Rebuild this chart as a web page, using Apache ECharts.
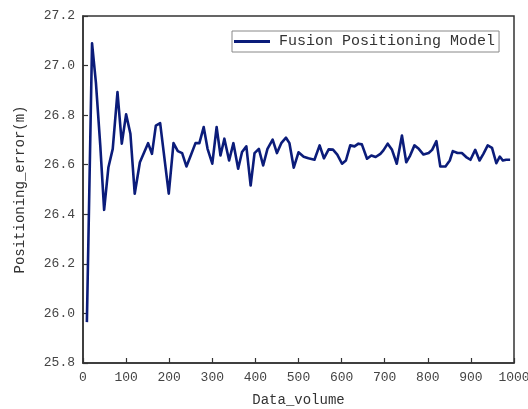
<!DOCTYPE html>
<html>
<head>
<meta charset="utf-8">
<script src="https://cdn.jsdelivr.net/npm/echarts@6/dist/echarts.min.js"></script>
<style>
html,body{margin:0;padding:0;background:#fff;}
#main{width:528px;height:409px;}
</style>
</head>
<body>
<div id="main"></div>
<script>
var seriesName = 'Fusion Positioning Model';
var xTitle = 'Data_volume';
var yTitle = 'Positioning_error(m)';

var dataVolume = [9,21,30,40,49,59,69,80,90,100,110,120,132,151,160,169,179,199,210,220,230,240,250,261,270,280,289,300,310,319,328,339,349,360,369,379,389,398,408,418,428,440,450,460,471,479,489,500,512,523,537,549,559,570,580,590,601,610,620,630,639,647,659,669,679,690,697,707,717,728,740,750,759,769,779,790,802,810,820,829,841,851,858,869,879,889,899,910,920,929,939,949,959,967,974,982,991];
var positioningError = [25.965,27.09,26.93,26.68,26.418,26.59,26.664,26.893,26.685,26.803,26.725,26.483,26.61,26.687,26.644,26.758,26.768,26.483,26.687,26.655,26.647,26.593,26.637,26.687,26.687,26.752,26.664,26.604,26.752,26.637,26.705,26.617,26.687,26.584,26.651,26.674,26.516,26.647,26.664,26.597,26.664,26.701,26.647,26.687,26.709,26.687,26.588,26.65,26.632,26.626,26.62,26.678,26.626,26.662,26.661,26.641,26.604,26.617,26.678,26.674,26.685,26.682,26.624,26.637,26.631,26.644,26.658,26.685,26.66,26.604,26.718,26.61,26.637,26.678,26.664,26.641,26.647,26.66,26.695,26.593,26.593,26.617,26.655,26.647,26.647,26.631,26.62,26.66,26.617,26.644,26.678,26.668,26.606,26.633,26.617,26.62,26.62];

var xMin = 0, xMax = 1000, xStep = 100;
var yMin = 25.8, yMax = 27.2, yStep = 0.2;

var pts = dataVolume.map(function(x, i){ return [x, positioningError[i]]; });
var font = '"Liberation Mono", "DejaVu Sans Mono", monospace';

var chart = echarts.init(document.getElementById('main'), null, {renderer:'canvas'});
chart.setOption({
  animation: false,
  backgroundColor: '#fff',
  grid: {left: 83, right: 14, top: 16, bottom: 46, containLabel: false, outerBoundsMode: 'none',
    show: true, borderColor: '#333', borderWidth: 1.5, backgroundColor: 'transparent'},
  legend: {
    data: [seriesName],
    left: 232, top: 31,
    itemWidth: 36, itemHeight: 3, itemGap: 0,
    padding: [3, 4, 3, 2],
    borderColor: '#888', borderWidth: 1,
    icon: 'rect',
    textStyle: {fontFamily: font, fontSize: 15, color: '#333', padding: [0,0,0,4]}
  },
  xAxis: {
    type: 'value', min: xMin, max: xMax, interval: xStep,
    name: xTitle, nameLocation: 'middle', nameGap: 30,
    nameTextStyle: {fontFamily: font, fontSize: 14, color: '#333'},
    axisLine: {show: true, lineStyle: {color: '#333', width: 1.5}},
    axisTick: {show: true, inside: true, length: 5, lineStyle: {color: '#333', width: 1.2}},
    axisLabel: {fontFamily: font, fontSize: 13, color: '#444', margin: 8,
      formatter: function(v){ return String(Math.round(v)); }},
    splitLine: {show: false}
  },
  yAxis: {
    type: 'value', min: yMin, max: yMax, interval: yStep,
    name: yTitle, nameLocation: 'middle', nameGap: 56, nameRotate: 90,
    nameTextStyle: {fontFamily: font, fontSize: 14, color: '#333'},
    axisLine: {show: true, lineStyle: {color: '#333', width: 1.5}},
    axisTick: {show: true, inside: true, length: 5, lineStyle: {color: '#333', width: 1.2}},
    axisLabel: {fontFamily: font, fontSize: 13, color: '#444', margin: 8,
      formatter: function(v){ return v.toFixed(1); }},
    splitLine: {show: false}
  },
  series: [{
    name: seriesName,
    type: 'line',
    data: pts,
    showSymbol: false,
    symbol: 'none',
    smooth: false,
    color: '#0b1c7a',
    lineStyle: {color: '#0b1c7a', width: 2.6, join: 'round'}
  }]
});
</script>
</body>
</html>
